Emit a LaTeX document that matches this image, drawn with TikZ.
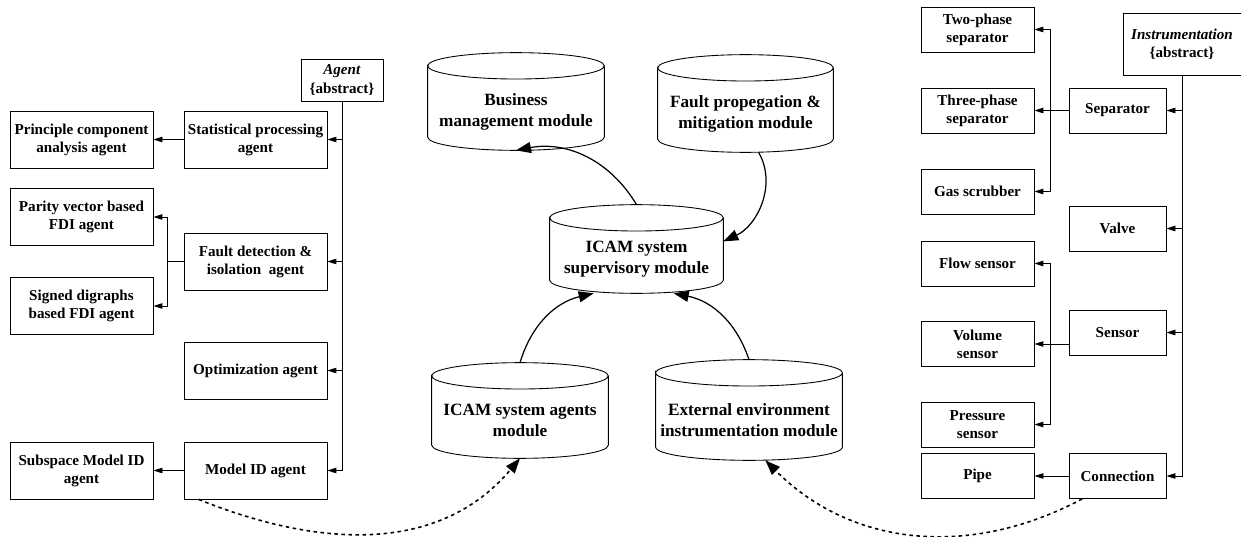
\documentclass[tikz,border=0pt]{standalone}
\usepackage{fontspec}
\setmainfont{Liberation Serif}
\usetikzlibrary{positioning, arrows.meta, calc}

\tikzset{
  lbl/.style={align=center, font=\bfseries\fontsize{8.6}{10.3}\selectfont},
  modlbl/.style={align=center, font=\bfseries\fontsize{9.8}{12}\selectfont},
  cls/.style={lbl, draw, line width=0.5pt, inner sep=1pt},
  abox/.style={cls, minimum width=2.86cm, minimum height=1.14cm},
  cbox/.style={cls, minimum width=2.26cm, minimum height=0.9cm},
  pbox/.style={cls, minimum width=1.94cm, minimum height=0.9cm},
  cyl/.style={minimum width=3.52cm, minimum height=1.94cm, label={[modlbl, yshift=-0.2cm]center:#1}},
  cylline/.style={line width=0.5pt},
  isa/.style={-{Triangle[length=1.8mm, width=1.1mm]}, line width=0.5pt},
  flow/.style={-{Triangle[length=3mm, width=2.2mm]}, line width=0.7pt},
  uses/.style={flow, line width=0.9pt, dash pattern=on 2pt off 2pt}
}

\begin{document}
\begin{tikzpicture}[x=0.02cm, y=-0.02cm, on grid, node distance=3.48cm]
  \useasboundingbox (0,0) rectangle (1241,537);

  % agent classes
  \node[cls, minimum width=1.64cm, minimum height=0.84cm] (agt) at (342,80) {\textit{Agent}\\\{abstract\}};
  \node[abox] (spa) at (255.5,139.5) {Statistical processing\\agent};
  \node[abox] (pca) [left=of spa] {Principle component\\analysis agent};
  \node[abox] (fda) at (255.5,261.5) {Fault detection \&\\isolation\ \ agent};
  \node[abox] (pvf) at (81.5,217) {Parity vector based\\FDI agent};
  \node[abox] (sdf) at (81.5,306) {Signed digraphs\\based FDI agent};
  \node[abox] (opt) at (255.5,370.5) {Optimization agent};
  \node[abox] (mid) at (255.5,470.5) {Model ID agent};
  \node[abox] (smi) [left=of mid] {Subspace Model ID\\agent};

  % modules
  \node[cyl={Business\\management module}] (bus) at (516,101.5) {};
  \node[cyl={Fault propegation \&\\mitigation module}, minimum width=3.5cm] (fpm) at (745.5,103.5) {};
  \node[cyl={ICAM system\\supervisory module}, minimum width=3.46cm, minimum height=1.76cm] (sup) at (636.5,249) {};
  \node[cyl={ICAM system agents\\module}, minimum height=1.9cm] (agm) at (520,410.5) {};
  \node[cyl={External environment\\instrumentation module}, minimum width=3.72cm, minimum height=2cm] (ext) at (749,410) {};
  \foreach \cyl in {bus,fpm,sup,agm,ext}
    \draw[cylline] let \p1=(\cyl.north west), \p2=(\cyl.south east), \n1={(\x2-\x1)/2} in
      (\x1,\y1-7.5pt) arc[start angle=180, end angle=-180, x radius=\n1, y radius=7.5pt]
      -- (\x1,\y2+7.5pt) arc[start angle=180, end angle=360, x radius=\n1, y radius=7.5pt]
      -- (\x2,\y1-7.5pt);

  % instrumentation classes
  \node[cls, minimum width=2.36cm, minimum height=1.24cm] (ins) at (1182,44) {\textit{Instrumentation}\\\{abstract\}};
  \node[pbox] (sep) at (1117.5,110.5) {Separator};
  \node[cbox] (thr) [left=2.8cm of sep] {Three-phase\\separator};
  \node[cbox] (two) at (977.5,29.5) {Two-phase\\separator};
  \node[cbox] (gas) at (977.5,191.5) {Gas scrubber};
  \node[pbox] (val) at (1117.5,228.5) {Valve};
  \node[pbox] (sen) at (1117.5,332.5) {Sensor};
  \node[cbox] (flo) at (977.5,263.5) {Flow sensor};
  \node[cbox] (vol) at (977.5,344) {Volume\\sensor};
  \node[cbox] (pre) at (977.5,424.5) {Pressure\\sensor};
  \node[pbox] (con) at (1117.5,476) {Connection};
  \node[cbox] (pip) [left=2.8cm of con] {Pipe};

  % hierarchy
  \foreach \c in {spa,fda,opt,mid}
    \draw[isa] (agt.south) |- (\c.east);
  \draw[isa] (spa) -- (pca);
  \draw[isa] (fda.west) -- ++(-16,0) |- (pvf.east);
  \draw[isa] (fda.west) -- ++(-16,0) |- (sdf.east);
  \draw[isa] (mid) -- (smi);

  \foreach \c in {sep,val,sen,con}
    \draw[isa] (ins.south) |- (\c.east);
  \draw[isa] (sep) -- (thr);
  \draw[isa] (sep.west) -- ++(-18,0) |- (two.east);
  \draw[isa] (sep.west) -- ++(-18,0) |- (gas.east);
  \draw[isa] (sen.west |- vol.east) -- (vol.east);
  \draw[isa] (sen.west |- vol.east) -- ++(-18,0) |- (flo.east);
  \draw[isa] (sen.west |- vol.east) -- ++(-18,0) |- (pre.east);
  \draw[isa] (con) -- (pip);

  % module links
  \draw[flow] (sup.north) to[bend right=35] (bus.south);
  \draw[flow] (fpm.-75) to[out=-60, in=25] (sup.5);
  \draw[flow] (agm.north) to[bend left=30] (sup.-134);
  \draw[flow] (ext.north) to[bend right=30] (sup.-50);
  \draw[uses] (mid.-153) to[out=-22, in=-130] (agm.south);
  \draw[uses] (con.-147) to[out=-152, in=-45] (ext.-72);
\end{tikzpicture}
\end{document}
